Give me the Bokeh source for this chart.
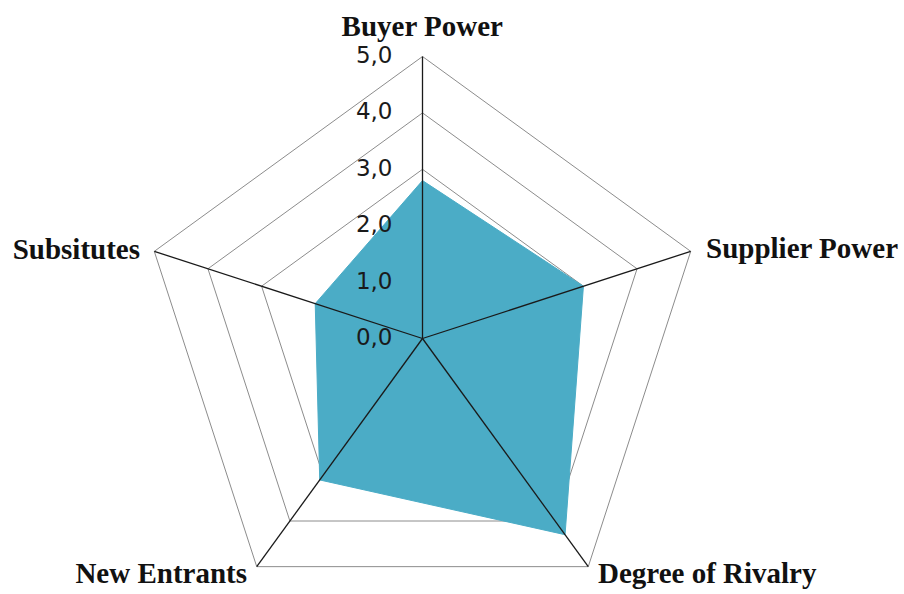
import numpy as np
from bokeh.plotting import figure
from bokeh.models import Range1d, ColumnDataSource
from bokeh.core.properties import value
from bokeh.embed import file_html
from bokeh.resources import INLINE

categories = ["Buyer Power", "Supplier Power", "Degree of Rivalry", "New Entrants", "Subsitutes"]
scores = [2.8, 3.0, 4.3, 3.1, 2.0]
ring_levels = [1, 2, 3, 4, 5]
tick_values = [0, 1, 2, 3, 4, 5]
tick_labels = ["0,0", "1,0", "2,0", "3,0", "4,0", "5,0"]
vmax = 5.0

W, H = 900, 590
PX = 282.0 / vmax          # pixels per unit
cx, cy = 422.0, 338.0      # centre in plot pixels (from top-left)

p = figure(width=W, height=H, output_backend="svg", toolbar_location=None,
           x_range=Range1d(-cx / PX, (W - cx) / PX),
           y_range=Range1d(-(H - cy) / PX, cy / PX),
           min_border=0, outline_line_color=None)
p.axis.visible = False
p.grid.visible = False
p.background_fill_color = "white"

n = len(categories)
ang = np.pi / 2 - 2 * np.pi * np.arange(n) / n

# grid rings
for lv in ring_levels:
    xs = list(lv * np.cos(ang)) + [lv * np.cos(ang[0])]
    ys = list(lv * np.sin(ang)) + [lv * np.sin(ang[0])]
    p.line(xs, ys, line_color="#8c8c8c", line_width=1)

# data fill
sv = np.array(scores)
p.patch(list(sv * np.cos(ang)), list(sv * np.sin(ang)),
        fill_color="#4BACC6", line_color="#4BACC6", line_width=1)

# spokes
for a in ang:
    p.line([0, vmax * np.cos(a)], [0, vmax * np.sin(a)], line_color="#1a1a1a", line_width=1.3)

# tick labels
p.text(x=[-30 / PX] * len(tick_values), y=tick_values, text=tick_labels,
       text_align="right", text_baseline="middle", y_offset=-2,
       text_font=value("DejaVu Sans"), text_font_size="23px", text_color="#1a1a1a")

# category labels (pixel positions relative to centre)
lab_x = [0, 283.5, 175.5, -175.5, -282.5]
lab_y = [313, 91, -234, -234, 90]
lab_align = ["center", "left", "left", "right", "right"]
src = ColumnDataSource(dict(x=[v / PX for v in lab_x], y=[v / PX for v in lab_y],
                            t=categories, a=lab_align))
p.text(x="x", y="y", text="t", text_align="a", text_baseline="alphabetic", source=src,
       text_font=value("Liberation Serif"), text_font_style="bold",
       text_font_size="29px", text_color="#111111")

open("out.html", "w").write(file_html(p, INLINE))
